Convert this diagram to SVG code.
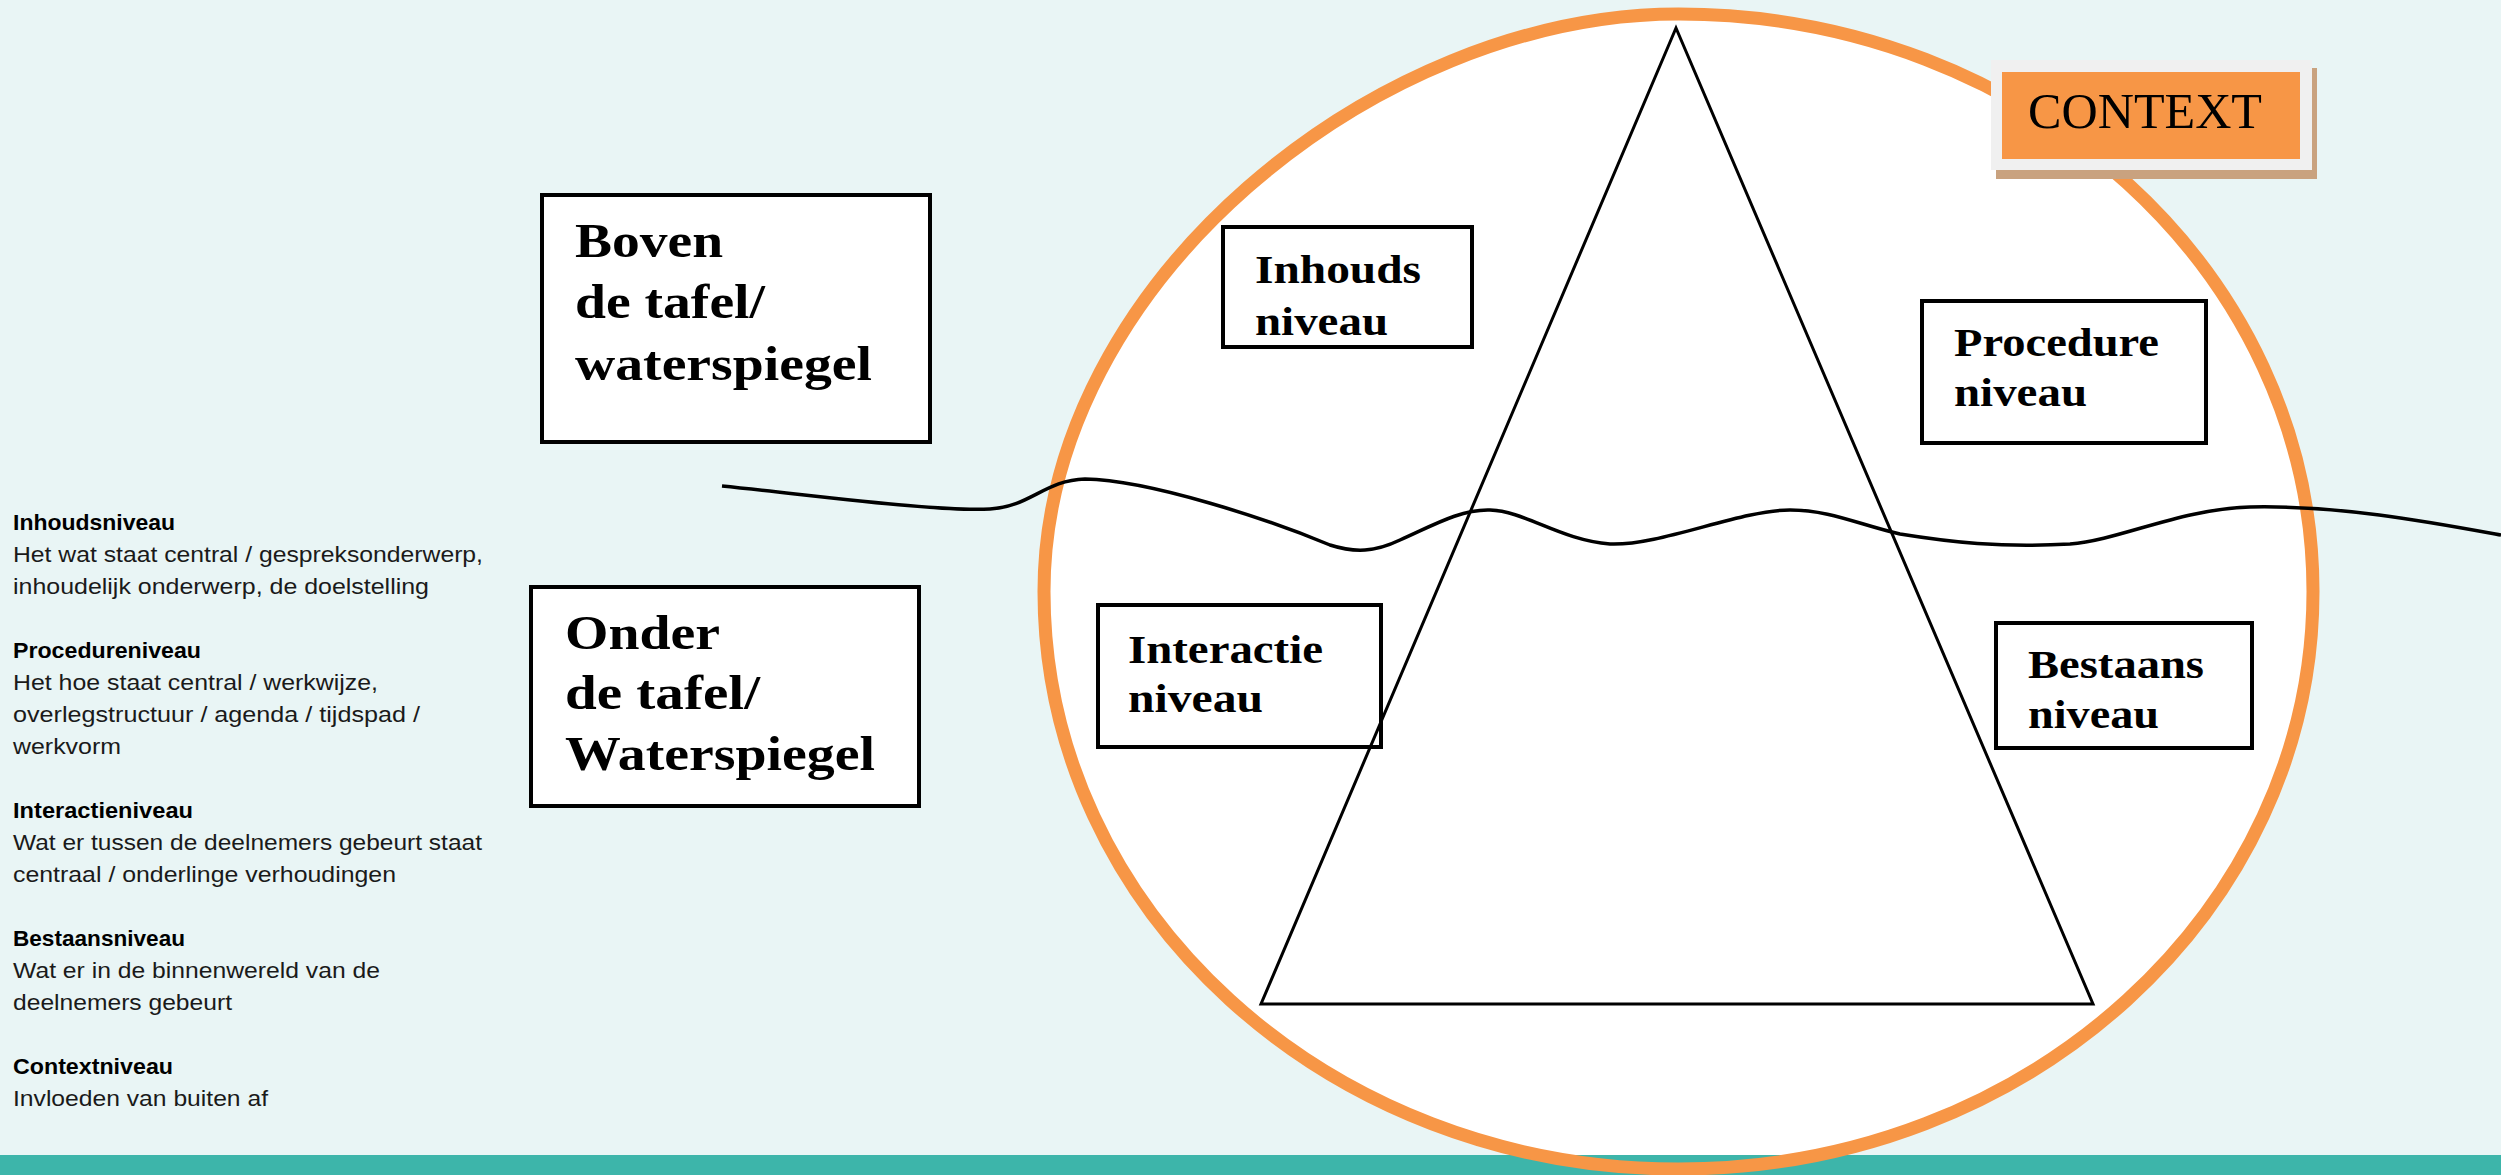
<svg xmlns="http://www.w3.org/2000/svg" width="2501" height="1175" viewBox="0 0 2501 1175">
<defs>
<style>
.box{fill:#ffffff;stroke:#000000;stroke-width:4}
.big{font-family:"Liberation Serif","Times New Roman",serif;font-weight:bold;font-size:48px;fill:#000}
.mid{font-family:"Liberation Serif","Times New Roman",serif;font-weight:bold;font-size:40px;fill:#000}
.ctx{font-family:"Liberation Serif","Times New Roman",serif;font-size:50px;fill:#000}
.lt{font-family:"Liberation Sans",Arial,sans-serif;font-size:22px;fill:#1a1a1a}
.lb{font-family:"Liberation Sans",Arial,sans-serif;font-size:22px;font-weight:bold;fill:#000}
</style>
<path id="egg" d="M 1678.5 14 C 2029 14, 2313 272.5, 2313 591.5 C 2313 910.5, 2029 1169, 1678.5 1169 C 1328 1169, 1044 910.5, 1044 591.5 C 1044 284, 1375 14, 1678.5 14 Z"/>
</defs>
<rect x="0" y="0" width="2501" height="1175" fill="#e9f5f5"/>
<g id="context-shape-fill">
<use href="#egg" fill="#ffffff"/>
</g>
<rect id="bottom-band" x="0" y="1155" width="2501" height="20" fill="#3db5aa"/>
<g id="context-shape">
<use href="#egg" fill="none" stroke="#f79646" stroke-width="13"/>
</g>

<g id="legend">
<text class="lb" x="13" y="530" textLength="162" lengthAdjust="spacingAndGlyphs">Inhoudsniveau</text>
<text class="lt" x="13" y="562" textLength="470" lengthAdjust="spacingAndGlyphs">Het wat staat central / gespreksonderwerp,</text>
<text class="lt" x="13" y="594" textLength="416" lengthAdjust="spacingAndGlyphs">inhoudelijk onderwerp, de doelstelling</text>
<text class="lb" x="13" y="658" textLength="188" lengthAdjust="spacingAndGlyphs">Procedureniveau</text>
<text class="lt" x="13" y="690" textLength="365" lengthAdjust="spacingAndGlyphs">Het hoe staat central / werkwijze,</text>
<text class="lt" x="13" y="722" textLength="407" lengthAdjust="spacingAndGlyphs">overlegstructuur / agenda / tijdspad /</text>
<text class="lt" x="13" y="754" textLength="108" lengthAdjust="spacingAndGlyphs">werkvorm</text>
<text class="lb" x="13" y="818" textLength="180" lengthAdjust="spacingAndGlyphs">Interactieniveau</text>
<text class="lt" x="13" y="850" textLength="469" lengthAdjust="spacingAndGlyphs">Wat er tussen de deelnemers gebeurt staat</text>
<text class="lt" x="13" y="882" textLength="383" lengthAdjust="spacingAndGlyphs">centraal / onderlinge verhoudingen</text>
<text class="lb" x="13" y="946" textLength="172" lengthAdjust="spacingAndGlyphs">Bestaansniveau</text>
<text class="lt" x="13" y="978" textLength="367" lengthAdjust="spacingAndGlyphs">Wat er in de binnenwereld van de</text>
<text class="lt" x="13" y="1010" textLength="219" lengthAdjust="spacingAndGlyphs">deelnemers gebeurt</text>
<text class="lb" x="13" y="1074" textLength="160" lengthAdjust="spacingAndGlyphs">Contextniveau</text>
<text class="lt" x="13" y="1106" textLength="255" lengthAdjust="spacingAndGlyphs">Invloeden van buiten af</text>
</g>

<g id="boven">
<rect class="box" x="542" y="195" width="388" height="247"/>
<text class="big" x="575" y="257" textLength="148" lengthAdjust="spacingAndGlyphs">Boven</text>
<text class="big" x="575" y="318" textLength="190" lengthAdjust="spacingAndGlyphs">de tafel/</text>
<text class="big" x="575" y="380" textLength="297" lengthAdjust="spacingAndGlyphs">waterspiegel</text>
</g>
<g id="onder">
<rect class="box" x="531" y="587" width="388" height="219"/>
<text class="big" x="565" y="649" textLength="155" lengthAdjust="spacingAndGlyphs">Onder</text>
<text class="big" x="565" y="709" textLength="195" lengthAdjust="spacingAndGlyphs">de tafel/</text>
<text class="big" x="565" y="770" textLength="310" lengthAdjust="spacingAndGlyphs">Waterspiegel</text>
</g>

<g id="inhouds">
<rect class="box" x="1223" y="227" width="249" height="120"/>
<text class="mid" x="1255" y="283" textLength="166" lengthAdjust="spacingAndGlyphs">Inhouds</text>
<text class="mid" x="1255" y="335" textLength="133" lengthAdjust="spacingAndGlyphs">niveau</text>
</g>
<g id="procedure">
<rect class="box" x="1922" y="301" width="284" height="142"/>
<text class="mid" x="1954" y="356" textLength="205" lengthAdjust="spacingAndGlyphs">Procedure</text>
<text class="mid" x="1954" y="406" textLength="133" lengthAdjust="spacingAndGlyphs">niveau</text>
</g>
<g id="interactie">
<rect class="box" x="1098" y="605" width="283" height="142"/>
<text class="mid" x="1128" y="663" textLength="195" lengthAdjust="spacingAndGlyphs">Interactie</text>
<text class="mid" x="1128" y="712" textLength="135" lengthAdjust="spacingAndGlyphs">niveau</text>
</g>
<g id="bestaans">
<rect class="box" x="1996" y="623" width="256" height="125"/>
<text class="mid" x="2028" y="678" textLength="176" lengthAdjust="spacingAndGlyphs">Bestaans</text>
<text class="mid" x="2028" y="728" textLength="131" lengthAdjust="spacingAndGlyphs">niveau</text>
</g>

<g id="connectors" fill="none" stroke="#000000">
<path id="triangle" d="M 1676 28 L 2093 1004 L 1261 1004 Z" stroke-width="3" stroke-linejoin="miter"/>
<path id="waterline" d="M 722 486 C 820 496, 940 512, 990 509 C 1030 507, 1045 480, 1085 479 C 1150 480, 1270 520, 1330 545 C 1355 553, 1375 552, 1400 540 C 1430 527, 1460 509, 1490 510 C 1525 511, 1560 540, 1610 544 C 1660 546, 1740 510, 1790 510 C 1830 510, 1860 525, 1900 534 C 1950 542, 2000 548, 2070 544 C 2120 540, 2180 509, 2250 507 C 2340 505, 2430 522, 2501 535" stroke-width="3.5"/>
</g>

<g id="context">
<rect x="1996" y="68" width="321" height="111" fill="#c9a27f"/>
<rect x="1991" y="60" width="321" height="110" fill="#f0f0f0"/>
<rect x="2002" y="72" width="298" height="87" fill="#f79646"/>
<text class="ctx" x="2028" y="128" textLength="234" lengthAdjust="spacingAndGlyphs">CONTEXT</text>
</g>
</svg>
